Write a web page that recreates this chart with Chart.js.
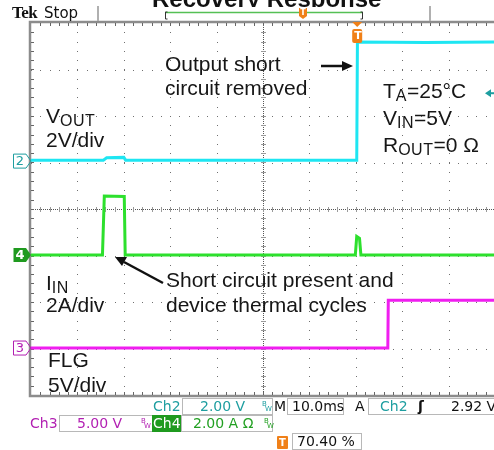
<!DOCTYPE html>
<html>
<head>
<meta charset="utf-8">
<script src="https://cdn.jsdelivr.net/npm/chart.js@4/dist/chart.umd.min.js"></script>
<style>
  body { margin: 0; width: 494px; height: 450px; overflow: hidden; background: #fff; position: relative; font-family: Arial, "Liberation Sans", sans-serif; }
  #scope { position: absolute; left: 0; top: 0; }
  .t { position: absolute; white-space: nowrap; color: #161616; font-size: 21px; line-height: 21px; }
  .t sub { font-size: 16px; vertical-align: -3px; line-height: 0; letter-spacing: 0.5px; }
  .ro { position: absolute; white-space: nowrap; font-family: "DejaVu Sans", sans-serif; font-size: 14px; line-height: 16px; }
  .box { position: absolute; border: 1px solid #b8b8b8; background: #fff; box-sizing: border-box; }
  .bw { position: absolute; font-family: "DejaVu Sans", sans-serif; font-size: 7px; line-height: 7px; }
  .tm { position: absolute; color: #fff; font-family: "DejaVu Sans", sans-serif; font-weight: bold; text-align: center; }
  .num { position: absolute; font-family: "DejaVu Sans", sans-serif; font-size: 13px; line-height: 14px; width: 14px; text-align: center; }
</style>
</head>
<body>
<canvas id="scope" width="500" height="400"></canvas>

<!-- cut-off title -->
<div style="position:absolute;left:0;top:0;width:494px;height:7px;overflow:hidden;">
  <div style="position:absolute;left:152px;top:-13px;font:bold 24px/24px Arial,'Liberation Sans',sans-serif;color:#111;white-space:nowrap;">Recovery Response</div>
</div>
<div style="position:absolute;left:12px;top:4px;font:bold 17px/17px 'Liberation Serif','DejaVu Serif',serif;color:#111;letter-spacing:-0.5px;">Tek</div>
<div class="ro" style="left:44px;top:5px;font-size:15px;color:#111;">Stop</div>

<!-- annotations -->
<div class="t" style="left:165px;top:53px;">Output short</div>
<div class="t" style="left:165px;top:77px;">circuit removed</div>
<div class="t" style="left:46px;top:105px;">V<sub>OUT</sub></div>
<div class="t" style="left:46px;top:129px;">2V/div</div>
<div class="t" style="left:383px;top:80px;">T<sub>A</sub>=25°C</div>
<div class="t" style="left:383px;top:107px;">V<sub>IN</sub>=5V</div>
<div class="t" style="left:383px;top:134px;">R<sub>OUT</sub>=0 Ω</div>
<div class="t" style="left:46px;top:272px;">I<sub>IN</sub></div>
<div class="t" style="left:46px;top:294px;">2A/div</div>
<div class="t" style="left:166px;top:269px;">Short circuit present and</div>
<div class="t" style="left:166px;top:294px;">device thermal cycles</div>
<div class="t" style="left:48px;top:349px;">FLG</div>
<div class="t" style="left:48px;top:374px;">5V/div</div>

<!-- channel markers -->
<div class="num" style="left:13px;top:154px;color:#1e9ea0;">2</div>
<div class="num" style="left:13px;top:248px;color:#fff;font-weight:bold;">4</div>
<div class="num" style="left:13px;top:341px;color:#b21fb2;">3</div>

<!-- trigger markers -->
<div class="tm" style="left:353px;top:30px;width:10px;font-size:11px;line-height:12px;">T</div>
<div class="tm" style="left:299px;top:8px;width:8px;font-size:8px;line-height:9px;">T</div>

<!-- readouts -->
<div class="ro" style="left:153px;top:398px;color:#1e9ea0;">Ch2</div>
<div class="box" style="left:182px;top:398px;width:91px;height:17px;"></div>
<div class="ro" style="left:200px;top:398px;color:#1e9ea0;">2.00 V</div>
<div class="bw" style="left:262px;top:401px;color:#1e9ea0;">B</div>
<div class="bw" style="left:265px;top:406px;color:#1e9ea0;">W</div>
<div class="ro" style="left:274px;top:398px;color:#111;">M</div>
<div class="box" style="left:287px;top:398px;width:57px;height:17px;"></div>
<div class="ro" style="left:292px;top:398px;color:#111;">10.0ms</div>
<div class="ro" style="left:355px;top:398px;color:#111;">A</div>
<div class="box" style="left:368px;top:398px;width:140px;height:17px;"></div>
<div class="ro" style="left:380px;top:398px;color:#1e9ea0;">Ch2</div>
<div class="ro" style="left:418px;top:398px;color:#111;font-weight:bold;">ʃ</div>
<div class="ro" style="left:451px;top:398px;color:#111;">2.92 V</div>

<div class="ro" style="left:30px;top:415px;color:#b21fb2;">Ch3</div>
<div class="box" style="left:59px;top:415px;width:94px;height:17px;"></div>
<div class="ro" style="left:77px;top:415px;color:#b21fb2;">5.00 V</div>
<div class="bw" style="left:141px;top:418px;color:#b21fb2;">B</div>
<div class="bw" style="left:144px;top:423px;color:#b21fb2;">W</div>
<div style="position:absolute;left:152px;top:415px;width:29px;height:17px;background:#1f9a1f;"></div>
<div class="ro" style="left:153px;top:415px;color:#fff;">Ch4</div>
<div class="box" style="left:181px;top:415px;width:92px;height:17px;"></div>
<div class="ro" style="left:193px;top:415px;color:#22a022;">2.00 A Ω</div>
<div class="bw" style="left:264px;top:418px;color:#22a022;">B</div>
<div class="bw" style="left:267px;top:423px;color:#22a022;">W</div>

<div style="position:absolute;left:277px;top:436px;width:11px;height:13px;background:#f08018;border-radius:1px;"></div>
<div class="tm" style="left:277px;top:436px;width:11px;font-size:10px;line-height:13px;">T</div>
<div class="box" style="left:292px;top:433px;width:70px;height:17px;"></div>
<div class="ro" style="left:297px;top:433px;color:#111;">70.40 %</div>

<script>
// Ch2 - VOUT (V), 2 V/div
const vOutTimeMs = [0, 15.6, 16.3, 20.0, 20.4, 70.2, 70.35, 85, 100];
const vOutVolts = [0.04, 0.04, 0.14, 0.16, 0.04, 0.04, 5.12, 5.10, 5.12];

// Ch4 - IIN (A), 2 A/div
const iInTimeMs = [0, 15.4, 15.8, 20.1, 20.3, 69.9, 70.2, 70.8, 71.1, 100];
const iInAmps = [0, 0, 2.54, 2.52, 0, 0, 0.8, 0.72, 0, 0];

// Ch3 - FLG (V), 5 V/div
const flgTimeMs = [0, 76.9, 77.0, 100];
const flgVolts = [0, 0, 5.15, 5.15];

// ground marker positions (divisions from bottom) and scales
const ch2Offset = 5.03, ch2PerDiv = 2;
const ch4Offset = 3.01, ch4PerDiv = 2;
const ch3Offset = 1.01, ch3PerDiv = 5;

function toDivs(times, values, offset, perDiv) {
    return times.map((t, i) => ({ x: t, y: offset + values[i] / perDiv }));
}

// oscilloscope graticule + markers
const scopeDecor = {
    id: 'scopeDecor',
    beforeDatasetsDraw(chart) {
        const { ctx, chartArea: a, scales: { x, y } } = chart;
        ctx.save();
        // dotted grid
        ctx.fillStyle = '#707070';
        for (let t = 10; t < 100; t += 10) {
            if (t === 50) continue;
            const px = Math.round(x.getPixelForValue(t));
            for (let d = 0; d <= 8.001; d += 0.2) {
                ctx.fillRect(px, Math.round(y.getPixelForValue(d)), 1, 1);
            }
        }
        for (let d = 1; d < 8; d++) {
            if (d === 4) continue;
            const py = Math.round(y.getPixelForValue(d));
            for (let t = 0; t <= 100.001; t += 2) {
                ctx.fillRect(Math.round(x.getPixelForValue(t)), py, 1, 1);
            }
        }
        // center cross
        const cx = Math.round(x.getPixelForValue(50));
        const cy = Math.round(y.getPixelForValue(4));
        ctx.fillStyle = '#555';
        for (let py = a.top; py < a.bottom; py += 2) ctx.fillRect(cx, py, 1, 1);
        for (let px = a.left; px < a.right; px += 2) ctx.fillRect(px, cy, 1, 1);
        ctx.fillStyle = '#9a9a9a';
        for (let d = 0.2; d < 8; d += 0.2) {
            ctx.fillRect(cx - 2, Math.round(y.getPixelForValue(d)), 5, 1);
        }
        for (let t = 2; t < 100; t += 2) {
            ctx.fillRect(Math.round(x.getPixelForValue(t)), cy - 2, 1, 5);
        }
        // border with ticks
        ctx.strokeStyle = '#8c8c8c';
        ctx.lineWidth = 2.5;
        ctx.strokeRect(a.left - 1, a.top - 1, a.right - a.left + 2, a.bottom - a.top + 2);
        ctx.fillStyle = '#666';
        for (let t = 2; t < 100; t += 2) {
            const px = Math.round(x.getPixelForValue(t));
            ctx.fillRect(px, a.top, 1, 3);
            ctx.fillRect(px, a.bottom - 3, 1, 3);
        }
        for (let d = 0.2; d < 8; d += 0.2) {
            ctx.fillRect(a.left, Math.round(y.getPixelForValue(d)), 3, 1);
        }
        ctx.restore();
    },
    afterDraw(chart) {
        const { ctx, scales: { x, y } } = chart;
        ctx.save();
        // status bar separators
        ctx.fillStyle = '#b0b0b0';
        ctx.fillRect(97, 6, 2, 15);
        ctx.fillRect(429, 6, 2, 15);
        // record bar
        ctx.strokeStyle = '#55c055';
        ctx.lineWidth = 1.5;
        ctx.beginPath(); ctx.moveTo(165, 12.5); ctx.lineTo(363, 12.5); ctx.stroke();
        ctx.strokeStyle = '#333';
        ctx.lineWidth = 1;
        ctx.beginPath();
        ctx.moveTo(167.5, 12); ctx.lineTo(165.5, 12); ctx.lineTo(165.5, 19); ctx.lineTo(167.5, 19);
        ctx.moveTo(360.5, 12); ctx.lineTo(362.5, 12); ctx.lineTo(362.5, 19); ctx.lineTo(360.5, 19);
        ctx.stroke();
        ctx.fillStyle = '#f08018';
        ctx.beginPath();
        ctx.moveTo(299, 8); ctx.lineTo(307, 8); ctx.lineTo(307, 16); ctx.lineTo(303, 19); ctx.lineTo(299, 16);
        ctx.closePath(); ctx.fill();

        // trigger position marker
        const tx = x.getPixelForValue(70.3);
        ctx.beginPath();
        ctx.moveTo(tx - 5, 22); ctx.lineTo(tx + 5, 22); ctx.lineTo(tx, 27);
        ctx.closePath(); ctx.fill();
        ctx.beginPath();
        ctx.roundRect(tx - 5, 29, 10, 14, 2);
        ctx.fill();

        // trigger level arrow (ch2)
        const ty = y.getPixelForValue(ch2Offset + 2.92 / ch2PerDiv);
        ctx.fillStyle = '#1e9ea0';
        ctx.beginPath();
        ctx.moveTo(485, ty); ctx.lineTo(491, ty - 4); ctx.lineTo(491, ty + 4);
        ctx.closePath(); ctx.fill();
        ctx.fillRect(490, ty - 1, 5, 2);

        // channel ground markers
        const marker = (py, color, filled) => {
            ctx.beginPath();
            ctx.moveTo(13.5, py - 7); ctx.lineTo(26, py - 7); ctx.lineTo(31, py);
            ctx.lineTo(26, py + 7); ctx.lineTo(13.5, py + 7);
            ctx.closePath();
            if (filled) { ctx.fillStyle = color; ctx.fill(); }
            else { ctx.strokeStyle = color; ctx.lineWidth = 1; ctx.stroke(); }
        };
        marker(y.getPixelForValue(ch2Offset), '#1e9ea0', false);
        marker(y.getPixelForValue(ch4Offset), '#1f9a1f', true);
        marker(y.getPixelForValue(ch3Offset), '#b21fb2', false);

        // annotation arrows
        ctx.strokeStyle = '#111';
        ctx.fillStyle = '#111';
        ctx.lineWidth = 2.5;
        ctx.beginPath(); ctx.moveTo(321, 66); ctx.lineTo(344, 66); ctx.stroke();
        ctx.beginPath(); ctx.moveTo(353, 66); ctx.lineTo(342, 61); ctx.lineTo(342, 71); ctx.closePath(); ctx.fill();
        ctx.beginPath(); ctx.moveTo(163, 283); ctx.lineTo(124, 262); ctx.stroke();
        ctx.beginPath(); ctx.moveTo(115, 257); ctx.lineTo(127, 257); ctx.lineTo(122, 266); ctx.closePath(); ctx.fill();
        ctx.restore();
    }
};

const traceStyle = { borderWidth: 3, pointRadius: 0, tension: 0, fill: false };

new Chart(document.getElementById('scope'), {
    type: 'line',
    data: {
        datasets: [
            { label: 'FLG', data: toDivs(flgTimeMs, flgVolts, ch3Offset, ch3PerDiv), borderColor: '#f01ef0', ...traceStyle },
            { label: 'IIN', data: toDivs(iInTimeMs, iInAmps, ch4Offset, ch4PerDiv), borderColor: '#2de02d', ...traceStyle },
            { label: 'VOUT', data: toDivs(vOutTimeMs, vOutVolts, ch2Offset, ch2PerDiv), borderColor: '#1ee6f2', ...traceStyle }
        ]
    },
    options: {
        responsive: false,
        animation: false,
        devicePixelRatio: 1,
        layout: { padding: { left: 31, top: 23, right: 5, bottom: 5 } },
        plugins: { legend: { display: false }, tooltip: { enabled: false } },
        scales: {
            x: { type: 'linear', min: 0, max: 100, display: false },
            y: { type: 'linear', min: 0, max: 8, display: false }
        }
    },
    plugins: [scopeDecor]
});
</script>
</body>
</html>
